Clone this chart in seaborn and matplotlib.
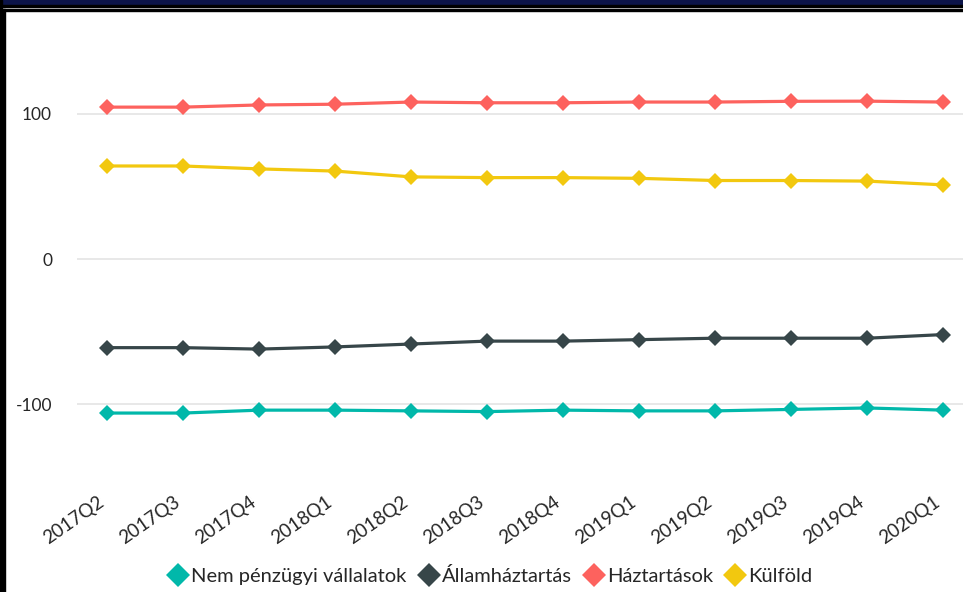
import matplotlib
matplotlib.use("Agg")
import matplotlib.pyplot as plt
from matplotlib.lines import Line2D
from matplotlib.patches import Rectangle
import pandas as pd
import seaborn as sns

quarters = ['2017Q2', '2017Q3', '2017Q4', '2018Q1', '2018Q2', '2018Q3',
            '2018Q4', '2019Q1', '2019Q2', '2019Q3', '2019Q4', '2020Q1']

nem_penzugyi = [-106, -106, -104, -104, -104.5, -105, -104, -104.5, -104.5, -103.5, -102.5, -104]
allamhaztartas = [-61, -61, -62, -60.5, -58.5, -56.5, -56.5, -55.5, -54.5, -54.5, -54.5, -52]
haztartasok = [104.5, 104.5, 106, 106.5, 108, 107.5, 107.5, 108, 108, 108.5, 108.6, 108]
kulfold = [64, 64, 62, 60.5, 56.5, 56, 56, 55.5, 54, 54, 53.6, 51]

series_names = ['Nem pénzügyi vállalatok', 'Államháztartás', 'Háztartások', 'Külföld']
colors = ['#01B8AA', '#374649', '#FD625E', '#F2C80F']

frames = []
for name, vals in zip(series_names, [nem_penzugyi, allamhaztartas, haztartasok, kulfold]):
    frames.append(pd.DataFrame({'quarter': quarters, 'value': vals, 'series': name}))
df = pd.concat(frames, ignore_index=True)
df['pos'] = df['quarter'].map({q: i for i, q in enumerate(quarters)})

sns.set_style('white')
plt.rcParams['font.family'] = ['Lato', 'DejaVu Sans']

fig = plt.figure(figsize=(9.63, 5.92), dpi=100)
ax = fig.add_axes([77 / 963, 1 - 477 / 592, 1 - 77 / 963, (477 - 41) / 592])

sns.lineplot(data=df, x='pos', y='value', hue='series', hue_order=series_names,
             palette=colors, marker='D', markersize=8.5, markeredgewidth=0,
             linewidth=2.3, legend=False, ax=ax)

ax.set_xlim(-0.395, 11.26)
ax.set_ylim(-150, 150)
ax.set_yticks([-100, 0, 100])
ax.set_yticklabels(['-100', '0', '100'], fontsize=12.5)
ax.set_xticks(range(len(quarters)))
ax.set_xticklabels(quarters, fontsize=13.5, rotation=35, ha='right', va='bottom',
                   rotation_mode='anchor')
ax.tick_params(axis='y', length=0, pad=18)
ax.tick_params(axis='x', length=0, pad=22)
ax.set_xlabel('')
ax.set_ylabel('')
for sp in ax.spines.values():
    sp.set_visible(False)
ax.grid(axis='y', color='#E6E6E6', linewidth=1.3)
ax.set_axisbelow(True)

handles = [Line2D([0], [0], marker='D', color='none', markerfacecolor=c,
                  markeredgewidth=0, markersize=12) for c in colors]
fig.legend(handles, series_names, loc='center', bbox_to_anchor=(0.508, 0.027),
           ncol=4, frameon=False, fontsize=14.5, handletextpad=0.05,
           columnspacing=0.5, handlelength=1.2)

# frame decoration: navy band on top and double black border
fig.patches.append(Rectangle((0, 1 - 5 / 592), 1, 5 / 592, transform=fig.transFigure,
                             color='#0C1449', zorder=0))
fig.patches.append(Rectangle((0, 1 - 7 / 592), 1, 2 / 592, transform=fig.transFigure,
                             color='black', zorder=0))
fig.patches.append(Rectangle((0, 1 - 11 / 592), 1, 2 / 592, transform=fig.transFigure,
                             color='black', zorder=0))
fig.patches.append(Rectangle((0, 0), 1.5 / 963, 1, transform=fig.transFigure,
                             color='black', zorder=0))
fig.patches.append(Rectangle((3 / 963, 0), 2 / 963, 1 - 9 / 592, transform=fig.transFigure,
                             color='black', zorder=0))

fig.savefig('out.png', dpi=100)
